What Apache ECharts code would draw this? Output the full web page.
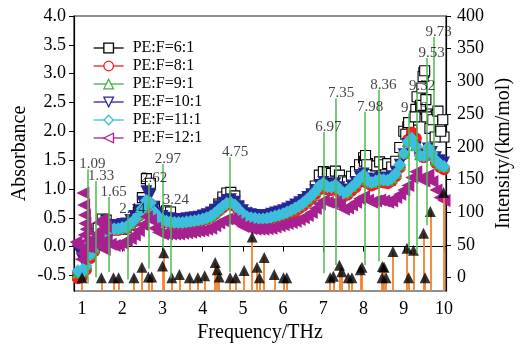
<!DOCTYPE html>
<html>
<head>
<meta charset="utf-8">
<script src="https://cdn.jsdelivr.net/npm/echarts@6/dist/echarts.min.js"></script>
<style>
  html, body { margin: 0; padding: 0; background: #fff; }
  #chart { width: 521px; height: 346px; }
</style>
</head>
<body>
<div id="chart"></div>
<script>
// frequency grid of the measured spectra (THz)
const freq = [0.9, 1.0, 1.1, 1.2, 1.3, 1.4, 1.5, 1.6, 1.7, 1.8, 1.9, 2.0, 2.1, 2.2, 2.3, 2.4, 2.5, 2.6, 2.7, 2.8,
  2.9, 3.0, 3.1, 3.2, 3.3, 3.4, 3.5, 3.6, 3.7, 3.8, 3.9, 4.0, 4.1, 4.2, 4.3, 4.4, 4.5, 4.6, 4.7, 4.8,
  4.9, 5.0, 5.1, 5.2, 5.3, 5.4, 5.5, 5.6, 5.7, 5.8, 5.9, 6.0, 6.1, 6.2, 6.3, 6.4, 6.5, 6.6, 6.7, 6.8,
  6.9, 7.0, 7.1, 7.2, 7.3, 7.4, 7.5, 7.6, 7.7, 7.8, 7.9, 8.0, 8.1, 8.2, 8.3, 8.4, 8.5, 8.6, 8.7, 8.8,
  8.9, 9.0, 9.1, 9.2, 9.3, 9.4, 9.5, 9.6, 9.7, 9.8, 9.9, 10.0]

// absorbance, one array per PE:F ratio
const pe6 = [-0.5, -0.45, 0.0, 0.22, 0.18, 0.32, 0.48, 0.46, 0.38, 0.32, 0.30, 0.30, 0.33, 0.38, 0.45, 0.60, 0.85, 1.18, 1.10, 0.70,
  0.58, 0.60, 0.62, 0.60, 0.48, 0.44, 0.43, 0.44, 0.45, 0.46, 0.47, 0.49, 0.52, 0.56, 0.62, 0.74, 0.86, 0.93, 0.94, 0.88,
  0.68, 0.58, 0.53, 0.51, 0.50, 0.50, 0.50, 0.51, 0.53, 0.55, 0.57, 0.60, 0.63, 0.66, 0.70, 0.74, 0.79, 0.83, 0.88, 1.05,
  1.24, 1.30, 1.29, 1.27, 1.31, 1.24, 1.14, 1.12, 1.22, 1.30, 1.42, 1.54, 1.44, 1.32, 1.40, 1.47, 1.42, 1.44, 1.38, 1.48,
  1.72, 2.00, 2.08, 2.02, 2.38, 2.58, 3.02, 2.30, 2.05, 2.28, 2.10, 1.90]
const pe6ExtraF = [8.02, 8.05, 8.08, 9.05, 9.12, 9.28, 9.33, 9.42, 9.45, 9.48, 9.52, 9.55, 9.57, 9.65, 9.72, 9.78, 9.85, 9.92, 9.97]
const pe6ExtraA = [1.48, 1.58, 1.42, 1.95, 2.15, 2.25, 2.60, 2.45, 2.75, 2.95, 3.05, 2.55, 2.25, 2.05, 2.20, 1.90, 2.35, 2.00, 2.20]

const pe8 = [-0.55, -0.52, -0.40, -0.20, -0.08, 0.02, 0.10, 0.20, 0.28, 0.29, 0.29, 0.31, 0.32, 0.38, 0.44, 0.53, 0.64, 0.78, 0.74, 0.58,
  0.50, 0.45, 0.42, 0.41, 0.40, 0.40, 0.40, 0.41, 0.42, 0.43, 0.44, 0.46, 0.48, 0.51, 0.56, 0.62, 0.68, 0.73, 0.74, 0.70,
  0.62, 0.55, 0.50, 0.48, 0.47, 0.46, 0.46, 0.47, 0.49, 0.51, 0.53, 0.54, 0.56, 0.58, 0.61, 0.66, 0.71, 0.77, 0.83, 0.91,
  0.99, 1.04, 0.99, 0.98, 1.01, 0.94, 0.87, 0.90, 0.97, 1.03, 1.12, 1.19, 1.10, 1.06, 1.09, 1.12, 1.11, 1.10, 1.14, 1.22,
  1.37, 1.60, 1.85, 1.98, 1.88, 1.62, 1.55, 1.68, 1.58, 1.45, 1.38, 1.34]

const pe9 = [-0.45, -0.42, -0.30, -0.12, -0.01, 0.07, 0.14, 0.24, 0.31, 0.32, 0.32, 0.34, 0.35, 0.41, 0.47, 0.56, 0.68, 0.84, 0.78, 0.61,
  0.53, 0.48, 0.45, 0.44, 0.43, 0.43, 0.43, 0.44, 0.45, 0.46, 0.47, 0.49, 0.51, 0.54, 0.59, 0.66, 0.73, 0.83, 0.86, 0.82,
  0.74, 0.67, 0.62, 0.60, 0.57, 0.51, 0.50, 0.51, 0.53, 0.55, 0.57, 0.59, 0.62, 0.65, 0.69, 0.73, 0.78, 0.84, 0.90, 0.98,
  1.08, 1.15, 1.07, 1.05, 1.09, 1.02, 0.94, 0.97, 1.05, 1.11, 1.21, 1.28, 1.17, 1.12, 1.15, 1.18, 1.17, 1.16, 1.20, 1.28,
  1.43, 1.63, 1.83, 1.90, 1.76, 1.60, 1.59, 1.73, 1.63, 1.51, 1.44, 1.40]

const pe10 = [-0.05, -0.22, -0.20, -0.08, 0.02, 0.10, 0.18, 0.28, 0.36, 0.37, 0.37, 0.39, 0.40, 0.46, 0.53, 0.63, 0.78, 0.96, 0.90, 0.68,
  0.58, 0.53, 0.50, 0.49, 0.48, 0.48, 0.48, 0.49, 0.50, 0.51, 0.52, 0.54, 0.56, 0.59, 0.64, 0.70, 0.76, 0.81, 0.82, 0.78,
  0.70, 0.63, 0.58, 0.56, 0.55, 0.54, 0.54, 0.55, 0.57, 0.59, 0.61, 0.63, 0.66, 0.69, 0.73, 0.77, 0.81, 0.86, 0.91, 0.98,
  1.07, 1.12, 1.07, 1.06, 1.10, 1.03, 0.96, 0.99, 1.06, 1.12, 1.22, 1.27, 1.18, 1.14, 1.17, 1.20, 1.19, 1.18, 1.22, 1.29,
  1.42, 1.60, 1.78, 1.84, 1.72, 1.56, 1.58, 1.70, 1.64, 1.55, 1.50, 1.46]

const pe11 = [-0.42, -0.45, -0.33, -0.14, -0.03, 0.05, 0.12, 0.22, 0.30, 0.31, 0.31, 0.33, 0.34, 0.40, 0.46, 0.55, 0.66, 0.80, 0.76, 0.60,
  0.52, 0.47, 0.44, 0.43, 0.42, 0.42, 0.42, 0.43, 0.44, 0.45, 0.46, 0.48, 0.50, 0.53, 0.58, 0.64, 0.70, 0.75, 0.76, 0.72,
  0.64, 0.57, 0.52, 0.50, 0.49, 0.48, 0.48, 0.49, 0.51, 0.53, 0.55, 0.57, 0.60, 0.63, 0.67, 0.71, 0.76, 0.82, 0.88, 0.96,
  1.05, 1.10, 1.04, 1.03, 1.07, 1.00, 0.93, 0.96, 1.03, 1.09, 1.18, 1.24, 1.15, 1.11, 1.14, 1.17, 1.16, 1.15, 1.19, 1.27,
  1.42, 1.62, 1.82, 1.88, 1.74, 1.58, 1.57, 1.72, 1.62, 1.50, 1.43, 1.39]

const pe12 = [0.02, -0.12, 0.30, -0.02, 0.05, 0.18, 0.30, 0.12, 0.04, 0.02, 0.03, 0.06, 0.10, 0.14, 0.20, 0.28, 0.38, 0.52, 0.46, 0.32,
  0.25, 0.22, 0.22, 0.22, 0.22, 0.22, 0.23, 0.24, 0.25, 0.26, 0.27, 0.28, 0.30, 0.32, 0.36, 0.41, 0.45, 0.48, 0.48, 0.45,
  0.40, 0.35, 0.33, 0.31, 0.30, 0.30, 0.30, 0.31, 0.32, 0.34, 0.36, 0.38, 0.40, 0.42, 0.44, 0.47, 0.50, 0.54, 0.59, 0.66,
  0.74, 0.80, 0.77, 0.75, 0.78, 0.72, 0.65, 0.67, 0.72, 0.77, 0.83, 0.87, 0.81, 0.77, 0.79, 0.81, 0.79, 0.77, 0.79, 0.85,
  0.91, 0.98, 1.06, 1.20, 1.30, 1.18, 1.14, 1.24, 1.13, 0.98, 0.85, 0.80]
const pe12ExtraF = [0.85, 0.98, 1.02, 1.04, 1.06, 1.07, 1.05, 1.08, 1.15, 1.35, 1.42, 1.45, 1.52, 1.55, 1.58]
const pe12ExtraA = [0.08, -0.22, 0.93, 0.72, 0.55, 0.40, 0.20, 0.00, 0.10, 0.22, 0.42, 0.05, 0.48, -0.05, 0.35]

// measured peaks (green lines)
const peakPos = [1.13, 1.35, 1.66, 2.13, 2.67, 3.01, 3.21, 4.68, 7.00, 7.32, 8.04, 8.37, 9.13, 9.33, 9.57, 9.74]
const peakLow = [-0.64, -0.53, -0.44, -0.57, -0.38, -0.03, -0.55, -0.44, -0.46, -0.32, -0.32, -0.26, -0.03, -0.12, 0.37, 1.39]
const peakHigh = [1.34, 1.14, 0.86, 0.57, 1.10, 1.43, 0.72, 1.55, 1.99, 2.57, 2.34, 2.72, 2.31, 2.69, 3.27, 3.64]
const peakText = ['1.09', '1.33', '1.65', '2.14', '2.62', '2.97', '3.24', '4.75', '6.97', '7.35', '7.98', '8.36', '9.16', '9.32', '9.53', '9.73']

// calculated modes (right axis)
const modeFreq = [1.00, 1.48, 1.78, 1.91, 2.29, 2.49, 2.65, 2.73, 3.00, 3.03, 3.23, 3.42, 3.67, 3.88, 4.05, 4.31,
  4.36, 4.41, 4.68, 4.82, 5.03, 5.23, 5.35, 5.41, 5.53, 5.78, 6.01, 6.09, 7.17, 7.25, 7.40, 7.46,
  7.62, 7.71, 7.92, 7.96, 8.46, 8.47, 8.51, 8.56, 8.73, 9.08, 9.12, 9.24, 9.49, 9.53, 9.66, 9.99]
const modeInt = [0, 0, 0, 0, 0, 16, 1, 1, 18, 38, 0, 5, 0, 0, 3, 23,
  12, 1, 0, 0, 11, 62, 16, 0, 31, 5, 0, 0, 0, 2, 19, 9,
  0, 0, 12, 16, 0, 17, 16, 0, 40, 45, 0, 42, 68, 0, 101, 130]

const xTicks = [1, 2, 3, 4, 5, 6, 7, 8, 9, 10]
const absTicks = [-0.5, 0, 0.5, 1.0, 1.5, 2.0, 2.5, 3.0, 3.5, 4.0]
const intTicks = [0, 50, 100, 150, 200, 250, 300, 350, 400]

const intMin = -20.4
const FONT = '"Liberation Serif", "Times New Roman", serif'

const chart = echarts.init(document.getElementById('chart'))

function spectrum (name, values, color, symbol, size, rotate, extraF, extraA) {
  const data = freq.map((f, i) => [f, values[i]])
  if (extraF) extraF.forEach((f, i) => data.push([f, extraA[i]]))
  const isBlack = color === '#000000'
  return {
    name: name,
    type: 'line',
    data: data,
    symbol: symbol,
    symbolSize: size,
    symbolRotate: rotate,
    showAllSymbol: true,
    lineStyle: { width: 0, color: color },
    itemStyle: isBlack
      ? { color: '#fff', borderColor: '#000', borderWidth: 1.1 }
      : { color: color, borderWidth: 0 },
    emphasis: { disabled: true },
    z: 2
  }
}

const names = ['PE:F=6:1', 'PE:F=8:1', 'PE:F=9:1', 'PE:F=10:1', 'PE:F=11:1', 'PE:F=12:1']
const colors = ['#000000', '#ff1a1a', '#3cb043', '#262699', '#3dbfdc', '#a8208f']

const axisLine = { show: true, lineStyle: { color: '#000', width: 1.2 } }

const option = {
  animation: false,
  textStyle: { fontFamily: FONT },
  grid: {
    left: 74, right: 75, top: 16, bottom: 55,
    show: true, borderColor: '#222', borderWidth: 1.2,
    outerBoundsMode: 'none'
  },
  legend: {
    orient: 'vertical',
    left: 88,
    top: 35,
    itemWidth: 30,
    itemHeight: 12,
    itemGap: 2,
    selectedMode: false,
    textStyle: { fontSize: 16, color: '#000', fontFamily: FONT, lineHeight: 16, padding: [0, 0, 0, 4] },
    data: names.map((n, i) => ({
      name: n,
      itemStyle: { color: '#fff', borderColor: colors[i], borderWidth: 1.3 },
      lineStyle: { color: colors[i], width: 1.3, opacity: 1 }
    }))
  },
  xAxis: {
    type: 'value',
    min: 0.8,
    max: 10.05,
    axisLine: axisLine,
    axisTick: { show: true, length: 5, customValues: xTicks, lineStyle: { color: '#000' } },
    axisLabel: { customValues: xTicks, fontSize: 18, color: '#000', margin: 9, fontFamily: FONT },
    splitLine: { show: false },
    name: 'Frequency/THz',
    nameLocation: 'middle',
    nameGap: 32,
    nameMoveOverlap: false,
    nameTextStyle: { fontSize: 20, color: '#000', fontFamily: FONT }
  },
  yAxis: [
    {
      type: 'value',
      position: 'left',
      min: -0.77,
      max: 4.0,
      axisLine: axisLine,
      axisTick: { show: true, length: 5, customValues: absTicks, lineStyle: { color: '#000' } },
      axisLabel: { customValues: absTicks, fontSize: 18, color: '#000', margin: 8, fontFamily: FONT,
        formatter: v => Number(v).toFixed(1) },
      splitLine: { show: false },
      name: 'Absorbance',
      nameLocation: 'middle',
      nameRotate: 90,
      nameGap: 44,
      nameMoveOverlap: false,
      nameTextStyle: { fontSize: 20, color: '#000', fontFamily: FONT }
    },
    {
      type: 'value',
      position: 'right',
      min: intMin,
      max: 400,
      axisLine: axisLine,
      axisTick: { show: true, length: 5, customValues: intTicks, lineStyle: { color: '#000' } },
      axisLabel: { customValues: intTicks, fontSize: 18, color: '#000', margin: 11, fontFamily: FONT },
      splitLine: { show: false },
      name: 'Intensity/(km/mol)',
      nameLocation: 'middle',
      nameRotate: 90,
      nameGap: 48,
      nameMoveOverlap: false,
      nameTextStyle: { fontSize: 20, color: '#000', fontFamily: FONT }
    }
  ],
  series: [
    spectrum(names[0], pe6, colors[0], 'rect', 10, 0, pe6ExtraF, pe6ExtraA),
    spectrum(names[1], pe8, colors[1], 'circle', 12, 0),
    spectrum(names[2], pe9, colors[2], 'triangle', 12, 0),
    spectrum(names[3], pe10, colors[3], 'triangle', 12, 180),
    spectrum(names[4], pe11, colors[4], 'diamond', 13, 0),
    spectrum(names[5], pe12, colors[5], 'triangle', 13, 90, pe12ExtraF, pe12ExtraA),
    {
      // stems of the calculated modes
      type: 'lines',
      coordinateSystem: 'cartesian2d',
      xAxisIndex: 0,
      yAxisIndex: 1,
      silent: true,
      z: 3,
      lineStyle: { color: '#f5822a', width: 1.8, opacity: 1 },
      data: modeFreq.map((f, i) => ({ coords: [[f, intMin], [f, modeInt[i]]] }))
    },
    {
      type: 'scatter',
      yAxisIndex: 1,
      symbol: 'triangle',
      symbolSize: 11,
      itemStyle: { color: '#000' },
      silent: true,
      z: 4,
      data: modeFreq.map((f, i) => [f, modeInt[i]])
    },
    {
      // measured peak markers
      type: 'lines',
      coordinateSystem: 'cartesian2d',
      xAxisIndex: 0,
      yAxisIndex: 0,
      silent: true,
      z: 5,
      lineStyle: { color: '#4cbb4c', width: 1.5, opacity: 1 },
      data: peakPos.map((p, i) => ({ coords: [[p, peakLow[i]], [p, peakHigh[i]]] }))
    },
    {
      type: 'scatter',
      yAxisIndex: 0,
      symbolSize: 1,
      itemStyle: { color: 'transparent' },
      silent: true,
      zlevel: 1,
      z: 10,
      label: {
        show: true,
        position: 'inside',
        offset: [5, -5],
        fontSize: 15,
        color: '#111',
        fontFamily: FONT,
        formatter: p => p.name
      },
      data: peakPos.map((p, i) => ({ name: peakText[i], value: [p, peakHigh[i]] }))
    }
  ]
}

chart.setOption(option)
</script>
</body>
</html>
